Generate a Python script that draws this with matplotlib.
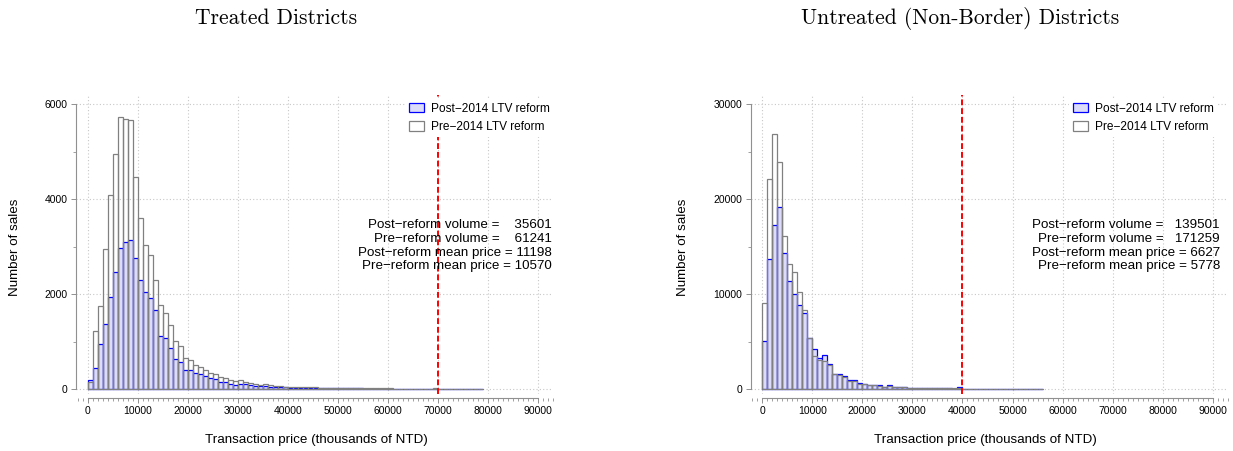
import matplotlib
matplotlib.use("Agg")
import matplotlib.pyplot as plt
from matplotlib.patches import Patch
from matplotlib.ticker import MultipleLocator
import numpy as np

# histogram counts, 1000 NTD-thousand bins starting at 0
pre_treated = [150, 1221, 1754, 2954, 4084, 4940, 5719, 5684, 5656, 4463,
               3593, 3032, 2828, 2302, 1761, 1593, 1347, 1005, 908, 646,
               615, 515, 470, 393, 344, 312, 260, 225, 190, 160,
               185, 150, 125, 100, 88, 95, 75, 65, 60, 52,
               48, 44, 40, 42, 35, 32, 30, 28, 30, 25,
               22, 25, 18, 18, 20, 16, 14, 12, 15, 12,
               12, 10, 9, 10, 8, 10, 8, 7, 8, 14,
               9, 6, 5, 6, 5, 4, 5, 4, 3]
post_treated = [189, 449, 940, 1375, 1937, 2456, 2961, 3102, 3130, 2751,
                2295, 2049, 1923, 1670, 1120, 1067, 860, 625, 561, 400,
                400, 330, 320, 280, 240, 215, 150, 145, 110, 90,
                115, 95, 75, 62, 55, 62, 48, 42, 38, 33,
                30, 28, 25, 27, 22, 20, 19, 18, 20, 16,
                14, 17, 12, 11, 14, 10, 9, 8, 10, 8,
                8, 6, 6, 7, 5, 6, 5, 5, 6, 10,
                6, 4, 4, 4, 3, 3, 3, 3, 2]

pre_untreated = [9100, 22070, 26890, 23940, 16150, 13110, 12300, 10260, 8320, 5350,
                 3490, 3050, 2980, 2550, 1620, 1500, 1290, 830, 870, 520,
                 500, 420, 410, 350, 200, 330, 250, 200, 180, 150,
                 130, 140, 110, 100, 90, 80, 70, 75, 60, 120,
                 50, 45, 40, 35, 40, 30, 25, 25, 20, 20,
                 15, 15, 12, 10, 10, 8]
post_untreated = [5100, 13640, 17220, 19190, 14340, 11390, 9950, 8890, 8000, 5420,
                  4160, 3300, 3550, 2620, 1570, 1600, 1330, 900, 930, 580,
                  540, 440, 420, 400, 200, 380, 250, 180, 160, 140,
                  120, 130, 100, 90, 80, 70, 60, 65, 50, 250,
                  45, 40, 35, 30, 35, 25, 20, 22, 18, 18,
                  14, 12, 10, 9, 8, 6]

titles = ["Treated Districts", "Untreated (Non-Border) Districts"]
cutoffs = [70000, 40000]
stats_treated = ["Post\u2212reform volume =    35601",
                 "Pre\u2212reform volume =    61241",
                 "Post\u2212reform mean price = 11198",
                 "Pre\u2212reform mean price = 10570"]
stats_untreated = ["Post\u2212reform volume =   139501",
                   "Pre\u2212reform volume =   171259",
                   "Post\u2212reform mean price = 6627",
                   "Pre\u2212reform mean price = 5778"]

plt.rcParams['font.family'] = ['Liberation Sans', 'DejaVu Sans']

W, H = 1233, 451
fig = plt.figure(figsize=(W / 100, H / 100), dpi=100)

blue_fill = '#dcdcf8'
gray_edge = '#808080'


def px_axes(left, top, right, bottom):
    return fig.add_axes([left / W, 1 - bottom / H, (right - left) / W, (bottom - top) / H])


def panel(ax, pre, post, ymax, ystep, cutoff, stats, leg_x, text_x):
    edges = np.arange(len(pre)) * 1000
    ax.bar(edges, post, width=1000, align='edge', facecolor=blue_fill,
           edgecolor='blue', linewidth=0.9, zorder=2)
    ax.bar(edges, pre, width=1000, align='edge', facecolor='none',
           edgecolor=gray_edge, linewidth=0.9, zorder=3)
    ax.axvline(cutoff, color='red', linestyle=(0, (3, 1.5)), linewidth=1.4, zorder=4)

    ax.set_xlim(-2300, 93000)
    ax.set_ylim(-ymax / 60, ymax * 31 / 30)
    ax.set_xticks(np.arange(0, 90001, 10000))
    ax.xaxis.set_minor_locator(MultipleLocator(1000))
    ax.set_yticks(np.arange(0, ymax + 1, ystep))
    ax.yaxis.set_minor_locator(MultipleLocator(ystep / 2))
    ax.set_axisbelow(True)
    ax.grid(True, which='major', color='#c8c8c8', linestyle=(0, (1, 2)), linewidth=0.8)

    for s in ['top', 'right']:
        ax.spines[s].set_visible(False)
    ax.spines['left'].set_bounds(0, ymax)
    ax.spines['bottom'].set_bounds(0, 90000)
    ax.spines['bottom'].set_position(('outward', 3))
    for s in ['left', 'bottom']:
        ax.spines[s].set_color('#909090')
        ax.spines[s].set_linewidth(0.8)
    ax.tick_params(which='major', length=3.5, width=0.7, color='#909090',
                   labelsize=7.5, pad=2.5)
    ax.tick_params(which='minor', length=2, width=0.6, color='#909090')

    ax.legend(handles=[Patch(facecolor=blue_fill, edgecolor='blue', linewidth=0.9,
                             label="Post\u22122014 LTV reform"),
                       Patch(facecolor='white', edgecolor=gray_edge, linewidth=0.9,
                             label="Pre\u22122014 LTV reform")],
              loc='upper left', bbox_to_anchor=(leg_x, 0.985), fontsize=8.6,
              frameon=True, facecolor='white', edgecolor='none', framealpha=1,
              fancybox=False, borderpad=0.3, handlelength=1.3, handleheight=0.8,
              handletextpad=0.6, labelspacing=0.55, borderaxespad=0)

    for i, line in enumerate(stats):
        ax.text(text_x, 0.564 - i * 0.0462, line, transform=ax.transAxes,
                ha='right', va='center', fontsize=9.6, zorder=5)


ax1 = px_axes(76.2, 94.5, 553.0, 393.75)
panel(ax1, pre_treated, post_treated, 6000, 2000, cutoffs[0], stats_treated, 0.69, 0.998)
ax2 = px_axes(750.5, 94.5, 1228.1, 393.75)
panel(ax2, pre_untreated, post_untreated, 30000, 10000, cutoffs[1], stats_untreated, 0.667, 0.983)

for x, t in zip([276, 960], titles):
    fig.text(x / W, 1 - 18 / H, t, ha='center', va='center', fontsize=15.5, family='cmr10')
for x in [316, 985]:
    fig.text(x / W, 1 - 440 / H, "Transaction price (thousands of NTD)",
             ha='center', va='center', fontsize=9.6)
for x in [15, 683]:
    fig.text(x / W, 1 - 247 / H, "Number of sales", rotation=90,
             ha='center', va='center', fontsize=9.6)

fig.savefig("out.png", dpi=100)
